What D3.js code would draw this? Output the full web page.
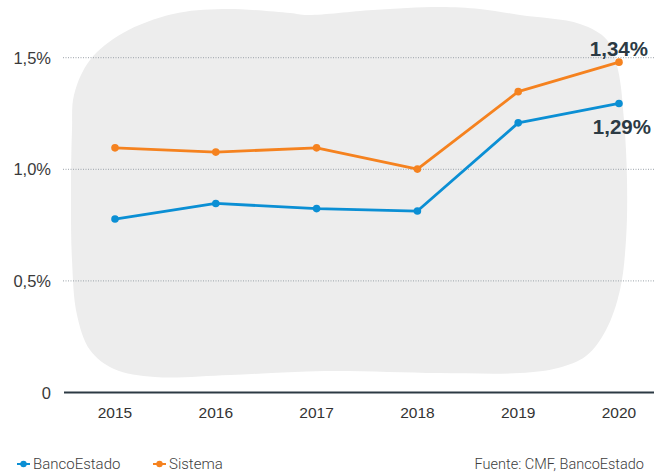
<!DOCTYPE html>
<html>
<head>
<meta charset="utf-8">
<script src="https://cdn.jsdelivr.net/npm/d3@7"></script>
<style>
  body { margin: 0; background: #fff; }
</style>
</head>
<body>
<div id="chart"></div>
<script>
var years = ["2015", "2016", "2017", "2018", "2019", "2020"];
var bancoEstado = [0.777, 0.847, 0.824, 0.813, 1.208, 1.295];
var sistema = [1.096, 1.077, 1.096, 1.001, 1.348, 1.480];
var yTicks = [0, 0.5, 1.0, 1.5];
var yTickLabels = ["0", "0,5%", "1,0%", "1,5%"];
var endLabels = ["1,34%", "1,29%"];

var W = 654, H = 475;
var blue = "#0b8fd4", orange = "#f5821f", dark = "#2c3a44";

var svg = d3.select("#chart")
            .append("svg")
            .attr("width", W)
            .attr("height", H);

var x = d3.scalePoint().domain(years).range([115, 619]);
var y = d3.scaleLinear().domain([0, 1.5]).range([392.5, 57.7]);

// background blob (decorative)
var blob = [[72,130],[74,95],[90,60],[123,33],[173,14],[223,9],[290,13],[307,15],[373,10],
            [440,7],[480,9],[520,15],[580,24],[607,40],[618,70],[624,120],[627,180],[626,240],
            [620,290],[606,330],[586,356],[558,368],[520,373],[439,373],[325,371],[230,375],
            [155,377],[114,369],[90,350],[77,315],[72,260],[71,190]];
svg.append("path")
   .attr("d", d3.line().curve(d3.curveCatmullRomClosed)(blob))
   .attr("fill", "#ededed");

// gridlines
svg.selectAll("line.grid")
   .data(yTicks.filter(function(d) { return d > 0; }))
   .enter()
   .append("line")
   .attr("class", "grid")
   .attr("x1", 63).attr("x2", W)
   .attr("y1", function(d) { return y(d); })
   .attr("y2", function(d) { return y(d); })
   .attr("stroke", "#9aa1a8")
   .attr("stroke-width", 1)
   .attr("stroke-dasharray", "1,1.5");

svg.append("line")
   .attr("x1", 64).attr("x2", W)
   .attr("y1", y(0)).attr("y2", y(0))
   .attr("stroke", dark)
   .attr("stroke-width", 2.2);

// y axis labels
svg.selectAll("text.ylab")
   .data(yTicks)
   .enter()
   .append("text")
   .attr("class", "ylab")
   .attr("x", 51)
   .attr("y", function(d) { return y(d) + 6; })
   .attr("text-anchor", "end")
   .attr("font-family", "Liberation Sans, Arial, sans-serif")
   .attr("font-size", "16.5px")
   .attr("fill", "#3a3a3a")
   .text(function(d, i) { return yTickLabels[i]; });

// x axis labels
svg.selectAll("text.xlab")
   .data(years)
   .enter()
   .append("text")
   .attr("class", "xlab")
   .attr("x", function(d) { return x(d); })
   .attr("y", 418)
   .attr("text-anchor", "middle")
   .attr("font-family", "Liberation Sans, Arial, sans-serif")
   .attr("font-size", "15.5px")
   .attr("fill", "#333")
   .text(function(d) { return d; });

var line = d3.line()
             .x(function(d, i) { return x(years[i]); })
             .y(function(d) { return y(d); });

var series = [{vals: sistema, color: orange}, {vals: bancoEstado, color: blue}];
series.forEach(function(s) {
    svg.append("path")
       .attr("d", line(s.vals))
       .attr("fill", "none")
       .attr("stroke", s.color)
       .attr("stroke-width", 2.8)
       .attr("stroke-linejoin", "round");
    svg.selectAll(null)
       .data(s.vals)
       .enter()
       .append("circle")
       .attr("cx", function(d, i) { return x(years[i]); })
       .attr("cy", function(d) { return y(d); })
       .attr("r", 3.8)
       .attr("fill", s.color);
});

// end labels
svg.append("text")
   .attr("x", 648).attr("y", y(sistema[5]) - 6)
   .attr("text-anchor", "end")
   .attr("font-family", "Liberation Sans, Arial, sans-serif")
   .attr("font-weight", "bold")
   .attr("font-size", "20.5px")
   .attr("fill", dark)
   .text(endLabels[0]);

svg.append("text")
   .attr("x", 651).attr("y", y(bancoEstado[5]) + 31)
   .attr("text-anchor", "end")
   .attr("font-family", "Liberation Sans, Arial, sans-serif")
   .attr("font-weight", "bold")
   .attr("font-size", "20.5px")
   .attr("fill", dark)
   .text(endLabels[1]);

// legend
var legend = [{name: "BancoEstado", color: blue, x: 17}, {name: "Sistema", color: orange, x: 153}];
legend.forEach(function(l) {
    svg.append("line")
       .attr("x1", l.x).attr("x2", l.x + 13)
       .attr("y1", 464).attr("y2", 464)
       .attr("stroke", l.color)
       .attr("stroke-width", 2);
    svg.append("circle")
       .attr("cx", l.x + 6.5).attr("cy", 464).attr("r", 3.2)
       .attr("fill", l.color);
    svg.append("text")
       .attr("x", l.x + 16).attr("y", 469)
       .attr("font-family", "Roboto, sans-serif")
       .attr("font-weight", 300)
       .attr("font-size", "15px")
       .attr("fill", "#3d3d3d")
       .text(l.name);
});

svg.append("text")
   .attr("x", 644).attr("y", 469)
   .attr("text-anchor", "end")
   .attr("font-family", "Roboto, sans-serif")
   .attr("font-weight", 300)
   .attr("font-size", "14.5px")
   .attr("fill", "#3d3d3d")
   .text("Fuente: CMF, BancoEstado");
</script>
</body>
</html>
